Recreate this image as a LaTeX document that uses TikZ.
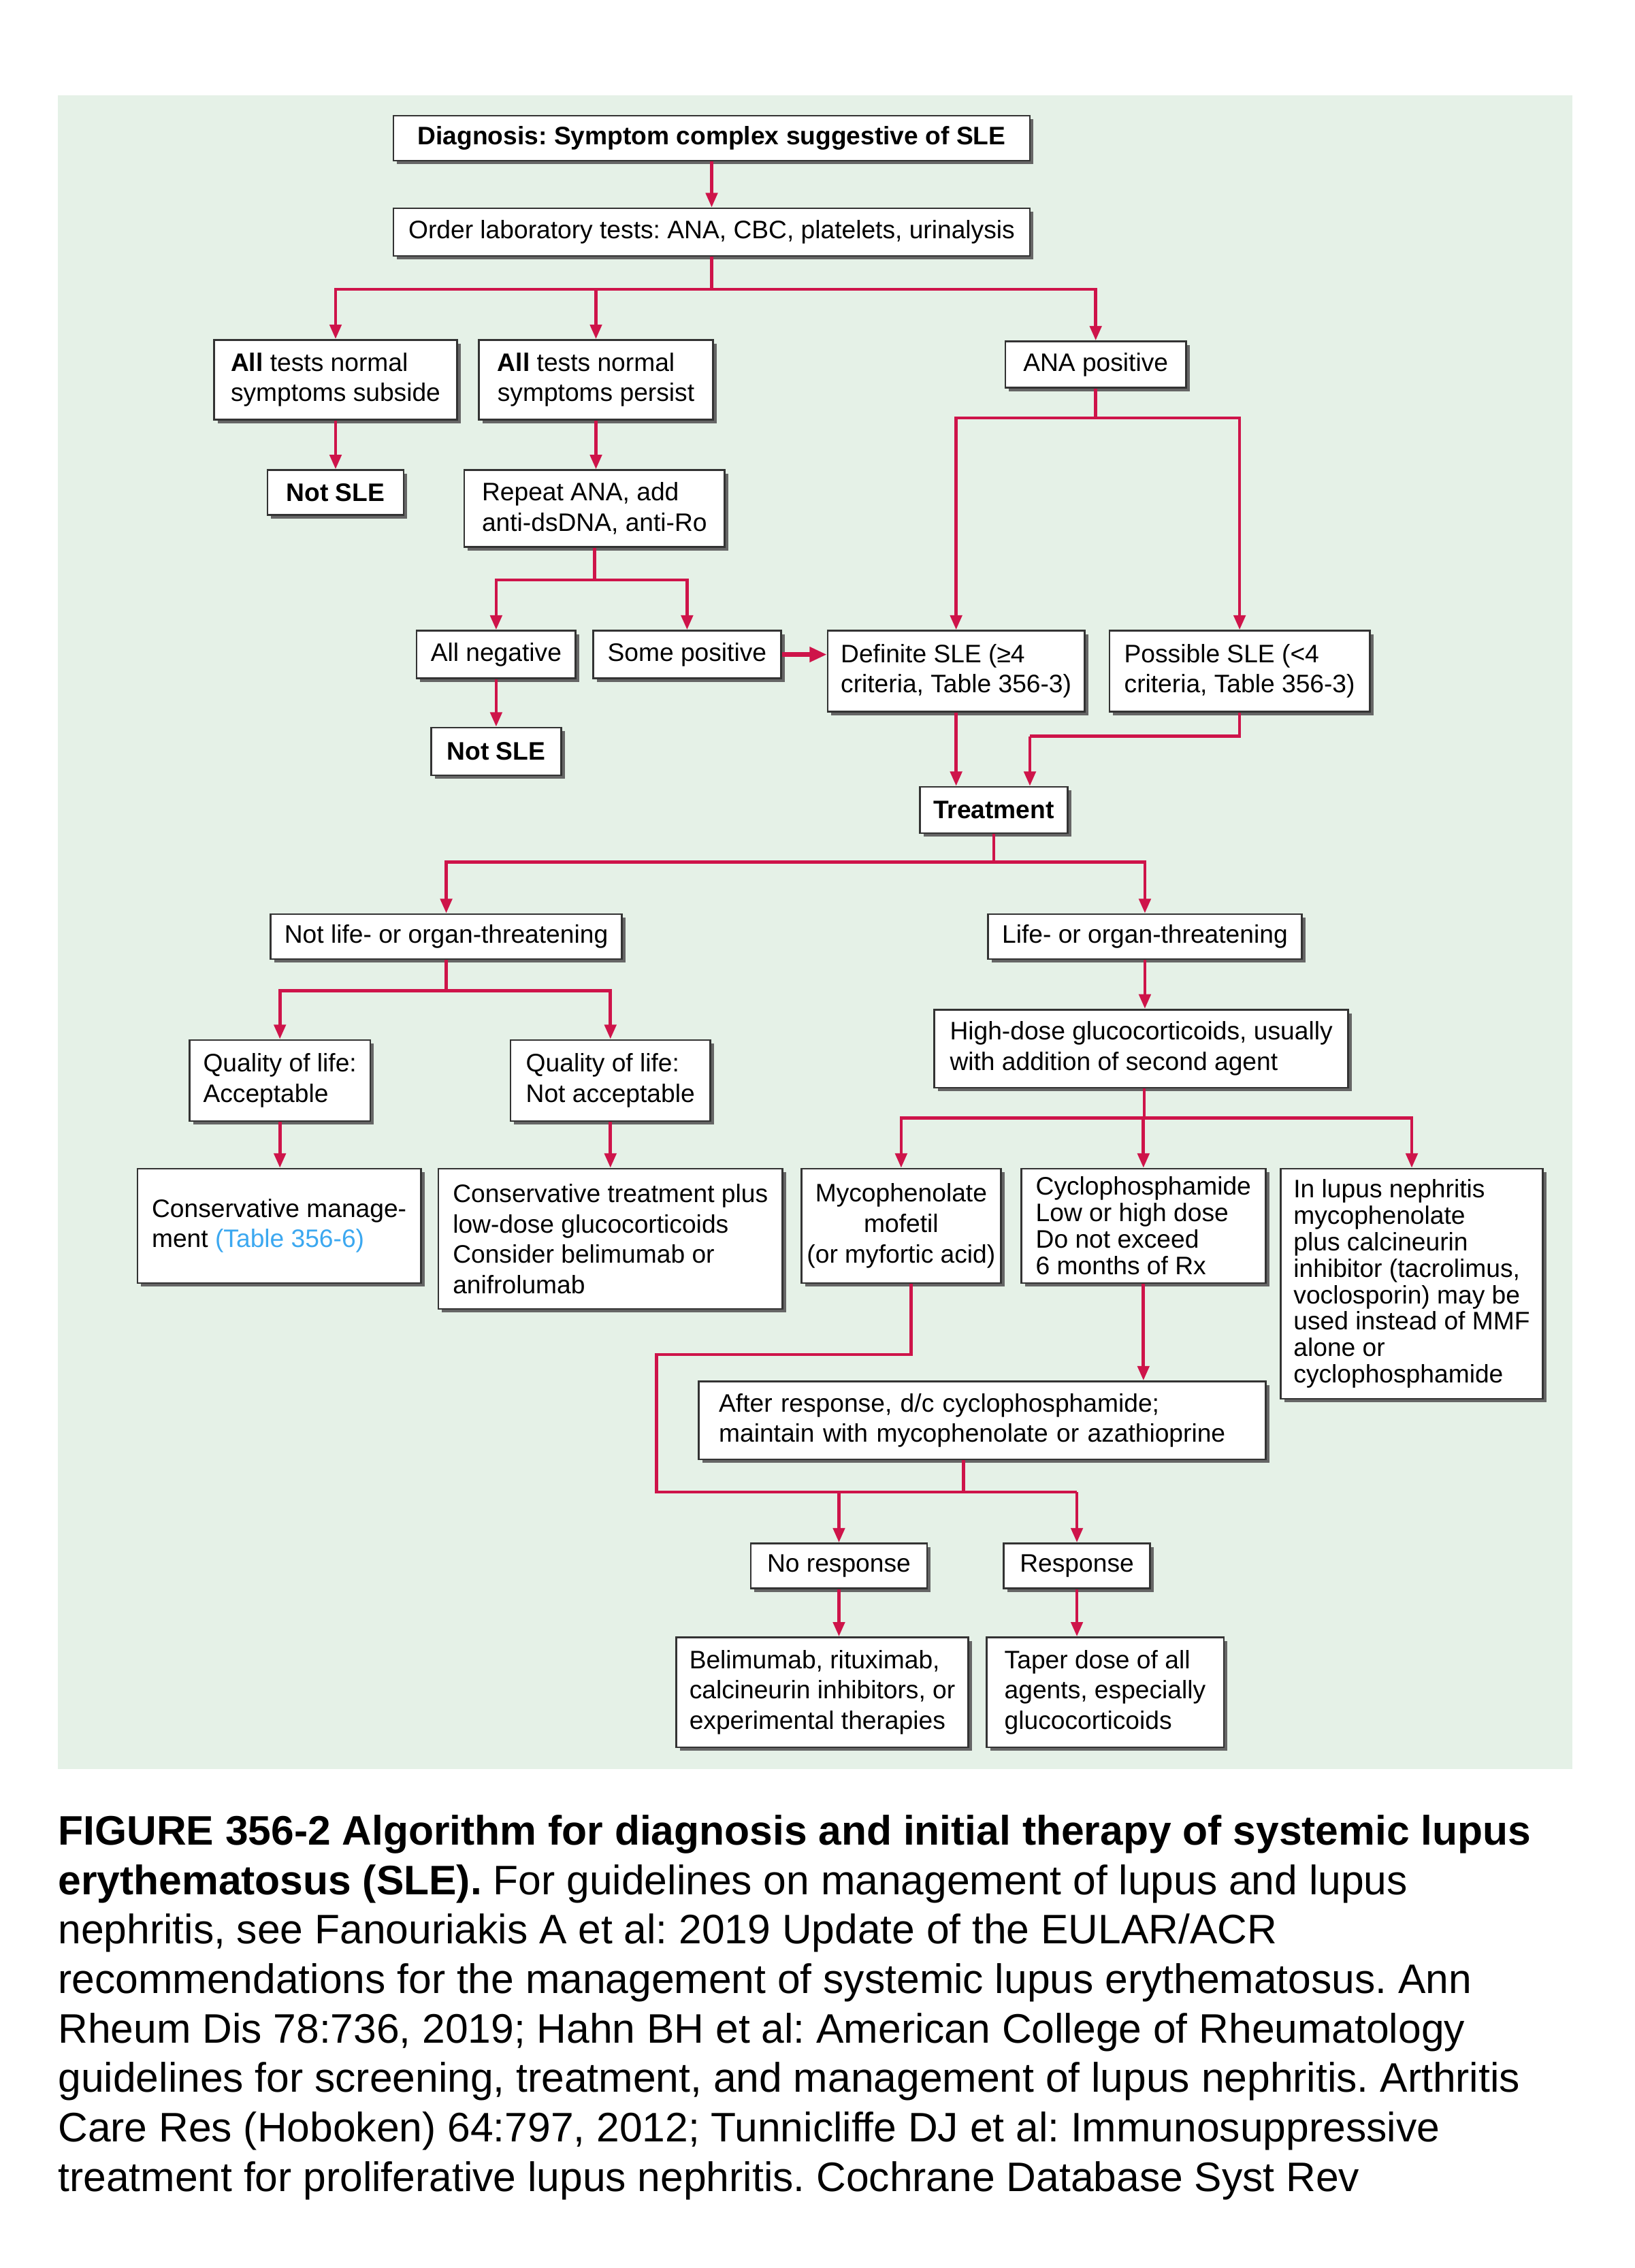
\documentclass[tikz,border=0pt]{standalone}
\usepackage{fontspec}
\setmainfont{Liberation Sans}
\usetikzlibrary{arrows.meta,shadows}
\definecolor{bgcol}{RGB}{229,241,231}
\definecolor{linkred}{RGB}{206,20,74}
\definecolor{linkblue}{RGB}{60,168,240}
\newcommand\dfont{\fontsize{17.5}{21}\selectfont}
\newcommand\tfont{\fontsize{17.5}{18.3}\selectfont}
\newcommand\cfont{\fontsize{28.5}{34.2}\selectfont}
\frenchspacing
\tikzset{
  box/.style={draw=black!80, line width=1.2pt, fill=white, inner xsep=9pt, inner ysep=3pt,
    font=\dfont\frenchspacing, align=left,
    drop shadow={shadow xshift=2.5pt, shadow yshift=-2.5pt, fill=black!60, opacity=1}},
  conn/.style={draw=linkred, line width=2.2pt},
  arr/.style={conn, -{Triangle[length=10pt,width=8pt]}},
  bigarr/.style={draw=linkred, line width=3pt, -{Triangle[length=12pt,width=10pt]}},
  capline/.style={anchor=base west, inner sep=0pt, font=\cfont\frenchspacing}
}
\begin{document}
\begin{tikzpicture}[x=1pt,y=-1pt]
\useasboundingbox (0,0) rectangle (1130,1568);
\fill[white] (0,0) rectangle (1130,1568);
\fill[bgcol] (40,66) rectangle (1087,1223);

% nodes
\node[box, minimum width=440pt, minimum height=31pt] (diag) at (492,95.5) {\textbf{Diagnosis: Symptom complex suggestive of SLE}};
\node[box, minimum width=440pt, minimum height=33pt] (order) at (492,160.5) {Order laboratory tests: ANA, CBC, platelets, urinalysis};
\node[box, minimum width=168pt, minimum height=55pt] (ats) at (232,262.5) {\textbf{All} tests normal\\symptoms subside};
\node[box, minimum width=162pt, minimum height=55pt] (atp) at (412,262.5) {\textbf{All} tests normal\\symptoms persist};
\node[box, minimum width=125pt, minimum height=32pt] (ana) at (757.5,252) {ANA positive};
\node[box, minimum width=94pt, minimum height=31pt] (notsleA) at (232,340.5) {\textbf{Not SLE}};
\node[box, minimum width=180pt, minimum height=53pt] (repeat) at (411,351.5) {Repeat ANA, add\\anti-dsDNA, anti-Ro};
\node[box, minimum width=110pt, minimum height=33pt] (allneg) at (343,452.5) {All negative};
\node[box, minimum width=130pt, minimum height=33pt] (somepos) at (475,452.5) {Some positive};
\node[box, minimum width=174pt, minimum height=56pt] (definite) at (661,464) {Definite SLE (≥4\\criteria, Table 356-3)};
\node[box, minimum width=180pt, minimum height=56pt] (possible) at (857,464) {Possible SLE (<4\\criteria, Table 356-3)};
\node[box, minimum width=90pt, minimum height=33pt] (notsleB) at (343,519.5) {\textbf{Not SLE}};
\node[box, minimum width=102pt, minimum height=32pt] (treat) at (687,560) {\textbf{Treatment}};
\node[box, minimum width=243pt, minimum height=31pt] (notlife) at (308.5,647.5) {Not life- or organ-threatening};
\node[box, minimum width=217pt, minimum height=31pt] (life) at (791.5,647.5) {Life- or organ-threatening};
\node[box, minimum width=125pt, minimum height=56pt] (qola) at (193.5,747) {Quality of life:\\Acceptable};
\node[box, minimum width=138pt, minimum height=56pt] (qoln) at (422,747) {Quality of life:\\Not acceptable};
\node[box, minimum width=286pt, minimum height=54pt] (high) at (789,725) {High-dose glucocorticoids, usually\\with addition of second agent};
\node[box, minimum width=196pt, minimum height=79pt] (consm) at (193,847.5) {Conservative manage-\\ment {\color{linkblue}(Table 356-6)}};
\node[box, minimum width=238pt, minimum height=97pt] (const) at (422,856.5) {Conservative treatment plus\\low-dose glucocorticoids\\Consider belimumab or\\anifrolumab};
\node[box, minimum width=138pt, minimum height=79pt, inner xsep=2pt, align=center] (myco) at (623,847.5) {Mycophenolate\\mofetil\\(or myfortic acid)};
\node[box, minimum width=169pt, minimum height=79pt, font=\tfont] (cyclo) at (790.5,847.5) {Cyclophosphamide\\Low or high dose\\Do not exceed\\6 months of Rx};
\node[box, minimum width=180pt, minimum height=159pt, font=\tfont] (lupus) at (976,887.5) {In lupus nephritis\\mycophenolate\\plus calcineurin\\inhibitor (tacrolimus,\\voclosporin) may be\\used instead of MMF\\alone or\\cyclophosphamide};
\node[box, minimum width=392pt, minimum height=54pt, text width=364pt] (after) at (679,982) {After response, d/c cyclophosphamide;\\maintain with mycophenolate or azathioprine};
\node[box, minimum width=122pt, minimum height=31pt] (noresp) at (580,1082.5) {No response};
\node[box, minimum width=101pt, minimum height=31pt] (resp) at (744.5,1082.5) {Response};
\node[box, minimum width=199pt, minimum height=76pt] (belim) at (568.5,1170) {Belimumab, rituximab,\\calcineurin inhibitors, or\\experimental therapies};
\node[box, minimum width=164pt, minimum height=76pt] (taper) at (764,1170) {Taper dose of all\\agents, especially\\glucocorticoids};

% junction coordinates
\coordinate (j1) at (492,200);
\coordinate (j2) at (757.5,289);
\coordinate (j3) at (411,401);
\coordinate (j4) at (712,509);
\coordinate (j5) at (687,596);
\coordinate (j6) at (308.5,685);
\coordinate (j7) at (791,773);
\coordinate (mx) at (630,0);
\coordinate (jl1) at (454,936.5);
\coordinate (jl2) at (454,1031.5);
\coordinate (ja) at (666,1031.5);

% connectors
\draw[arr] (diag) -- (order);
\draw[conn] (order.south) -- (j1);
\draw[arr] (j1) -| (ats.north);
\draw[arr] (j1) -| (atp.north);
\draw[arr] (j1) -| (ana.north);
\draw[arr] (ats) -- (notsleA);
\draw[arr] (atp.south) -- (atp.south |- repeat.north);
\draw[conn] (ana.south) -- (j2);
\draw[arr] (j2) -| (definite.north);
\draw[arr] (j2) -| (possible.north);
\draw[conn] (repeat.south) -- (j3);
\draw[arr] (j3) -| (allneg.north);
\draw[arr] (j3) -| (somepos.north);
\draw[bigarr] (somepos.east) -- (somepos.east -| definite.west);
\draw[arr] (allneg) -- (notsleB);
\draw[arr] (definite.south) -- (definite.south |- treat.north);
\draw[conn] (possible.south) |- (j4);
\draw[arr] (j4) -- (j4 |- treat.north);
\draw[conn] (treat.south) -- (j5);
\draw[arr] (j5) -| (notlife.north);
\draw[arr] (j5) -| (life.north);
\draw[conn] (notlife.south) -- (j6);
\draw[arr] (j6) -| (qola.north);
\draw[arr] (j6) -| (qoln.north);
\draw[arr] (life.south) -- (life.south |- high.north);
\draw[conn] (high.south -| j7) -- (j7);
\draw[arr] (j7) -| (myco.north);
\draw[arr] (j7) -| (cyclo.north);
\draw[arr] (j7) -| (lupus.north);
\draw[arr] (qola) -- (qola |- consm.north);
\draw[arr] (qoln) -- (qoln |- const.north);
\draw[arr] (cyclo.south) -- (cyclo.south |- after.north);
\draw[conn] (myco.south -| mx) |- (jl1) -- (jl2) -- (resp.north |- ja);
\draw[conn] (after.south -| ja) -- (ja);
\draw[arr] (noresp.north |- ja) -- (noresp.north);
\draw[arr] (resp.north |- ja) -- (resp.north);
\draw[arr] (noresp.south) -- (noresp.south |- belim.north);
\draw[arr] (resp.south) -- (resp.south |- taper.north);

% caption
\node[capline] (cap1) at (40,1275.5) {\textbf{FIGURE 356-2 Algorithm for diagnosis and initial therapy of systemic lupus}};
\node[capline] (cap2) at (40,1309.7) {\textbf{erythematosus (SLE).} For guidelines on management of lupus and lupus};
\node[capline] (cap3) at (40,1343.9) {nephritis, see Fanouriakis A et al: 2019 Update of the EULAR/ACR};
\node[capline] (cap4) at (40,1378.1) {recommendations for the management of systemic lupus erythematosus. Ann};
\node[capline] (cap5) at (40,1412.3) {Rheum Dis 78:736, 2019; Hahn BH et al: American College of Rheumatology};
\node[capline] (cap6) at (40,1446.5) {guidelines for screening, treatment, and management of lupus nephritis. Arthritis};
\node[capline] (cap7) at (40,1480.7) {Care Res (Hoboken) 64:797, 2012; Tunnicliffe DJ et al: Immunosuppressive};
\node[capline] (cap8) at (40,1514.9) {treatment for proliferative lupus nephritis. Cochrane Database Syst Rev};
\end{tikzpicture}
\end{document}
